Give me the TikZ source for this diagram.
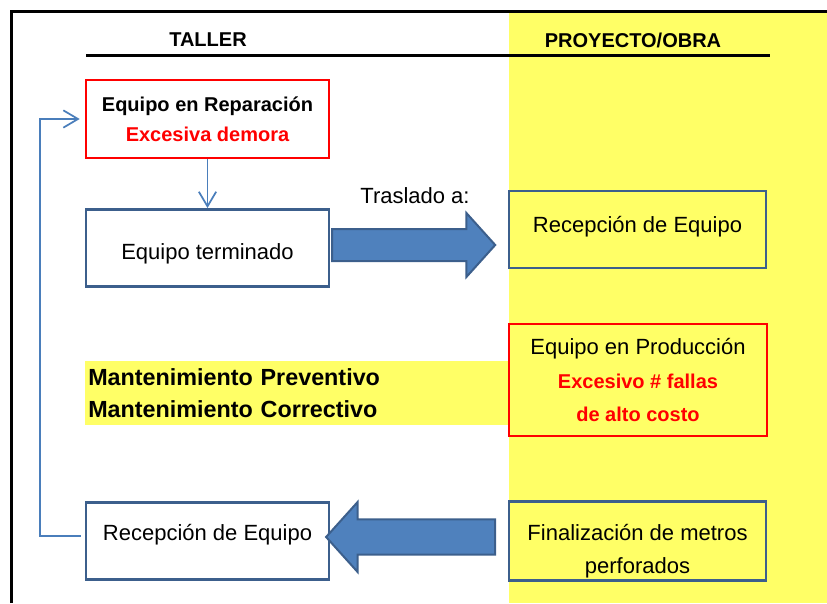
\documentclass[tikz,border=0pt]{standalone}
\usepackage{fontspec}
\setmainfont{Liberation Sans}
\usepackage{xcolor}
\usetikzlibrary{shapes,shapes.arrows,arrows.meta,positioning,calc}
\definecolor{boxblue}{HTML}{3C5F8C}
\definecolor{arrowblue}{HTML}{4F81BD}
\definecolor{lineblue}{HTML}{4A7EBB}
\definecolor{colyellow}{HTML}{FFFF66}

\begin{document}
\begin{tikzpicture}[
    x=0.75pt, y=-0.75pt,
    bluebox/.style={rectangle, draw=boxblue, line width=1.9pt, fill=white,
                    minimum width=182pt, minimum height=58pt,
                    align=center, font=\fontsize{16.5}{25}\selectfont, inner sep=2pt},
    redbox/.style={rectangle, draw=red, line width=1.7pt, fill=white,
                   minimum width=182pt, minimum height=58pt,
                   align=center, font=\fontsize{16.5}{25}\selectfont, inner sep=2pt},
    head/.style={font=\fontsize{15}{18}\selectfont\bfseries, inner sep=1pt},
    plain/.style={font=\fontsize{16.5}{20}\selectfont, inner sep=1pt},
    band/.style={rectangle, fill=colyellow, anchor=west, align=left,
                 text width=313.5pt, minimum height=48pt, inner xsep=2.25pt,
                 font=\fontsize{17.5}{24}\selectfont\bfseries},
    bigarrow/.style={single arrow, draw=boxblue, fill=arrowblue, line width=1.5pt,
                     single arrow tip angle=96, inner xsep=0pt},
    flow/.style={draw=lineblue, line width=1.3pt,
                 -{Straight Barb[length=11pt, width=13pt]}},
  ]
  \useasboundingbox (0,0) rectangle (827,603);

  % Columns and frame
  \fill[colyellow] (509,13) rectangle (827,603);
  \draw[line width=2.25pt] (11.5,603) -- (11.5,11.5) -- (827,11.5);
  \draw[line width=1.7pt] (86,55.5) -- (770,55.5);
  \node[head] (taller) at (208,40) {TALLER};
  \node[head] (proy) at (633,40) {PROYECTO/OBRA};

  % Taller
  \node[redbox, font=\fontsize{15}{22.5}\selectfont\bfseries] (rep) at (207.5,119)
    {Equipo en Reparación\\ \textcolor{red}{Excesiva demora}};
  \node[bluebox, text height=21pt, text depth=3.5pt] (term) at (207.5,248) {Equipo terminado};
  \node[band] (mant) at (85,393) {Mantenimiento Preventivo\\ Mantenimiento Correctivo};
  \node[bluebox, text height=12pt, text depth=12.5pt] (rec) at (207.5,541) {Recepción de Equipo};

  % Proyecto / obra
  \node[bluebox, fill=colyellow, minimum width=192.75pt, minimum height=57.75pt,
        text height=12pt, text depth=8pt] (recp) at (637.5,229.5)
    {Recepción de Equipo};
  \node[redbox, fill=colyellow, minimum width=193.5pt, minimum height=84pt] (prod) at (638,380)
    {Equipo en Producción\\
     {\color{red}\bfseries\fontsize{15}{25}\selectfont Excesivo \# fallas}\\
     {\color{red}\bfseries\fontsize{15}{25}\selectfont de alto costo}};
  \node[bluebox, fill=colyellow, minimum width=192.75pt, minimum height=58.5pt] (fin) at (637.5,541)
    {\rule{0pt}{27pt}Finalización de metros\\ perforados};

  % Traslados
  \node[plain] (tras) at (415,196) {Traslado a:};
  \node[bigarrow, minimum height=122.25pt, inner ysep=11.25pt,
        single arrow head extend=12pt] (ida) at (406.5,245) {};
  \node[bigarrow, minimum height=126.75pt, inner ysep=12.4pt,
        single arrow head extend=13.1pt, shape border rotate=180] (vuelta) at (418.5,537) {};

  % Flujo
  \draw[flow] (rep.south) -- (term.north);
  \draw[flow] ([xshift=-3pt, yshift=3.75pt]rec.west) -- ++(-41,0) |- ([xshift=-4pt]rep.west);
\end{tikzpicture}
\end{document}
